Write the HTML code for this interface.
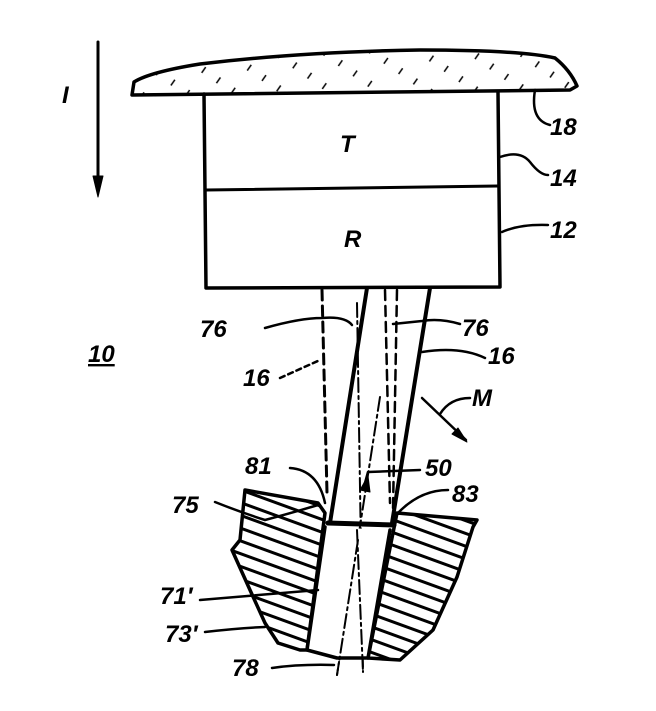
<!DOCTYPE html>
<html><head><style>
html,body{margin:0;padding:0;background:#fff;}
svg{display:block;}
text{font-family:"Liberation Sans",sans-serif;font-style:italic;font-weight:bold;font-size:24px;fill:#000;}
</style></head><body>
<svg width="656" height="711" viewBox="0 0 656 711" xmlns="http://www.w3.org/2000/svg">
<defs>
<pattern id="h" width="12" height="12" patternUnits="userSpaceOnUse" patternTransform="rotate(20)">
<line x1="0" y1="6" x2="12" y2="6" stroke="#000" stroke-width="3"/>
</pattern>
<pattern id="p" width="28" height="18" patternUnits="userSpaceOnUse" patternTransform="rotate(-55)">
<line x1="0" y1="9" x2="7" y2="9" stroke="#000" stroke-width="1.5"/>
</pattern>
</defs>
<g fill="none" stroke="#000" stroke-linecap="round" stroke-linejoin="round">
<!-- I arrow -->
<line x1="98" y1="42" x2="98" y2="185" stroke-width="3"/>
<polygon points="93,176 103,176 98,197" fill="#000"/>
<!-- plate -->
<path d="M132,95 L134,82 Q150,72 200,64 Q300,52 420,50 Q520,50 555,58 Q570,70 577,86 L570,90 L132,95 Z" fill="url(#p)" stroke-width="3.5"/>
<!-- box -->
<path d="M204,94 L206,288 L500,287 L498,92" stroke-width="3.5"/>
<path d="M206,190 L498,186" stroke-width="3"/>
<!-- dashed -->
<path d="M322,290 L327,493" stroke-width="3" stroke-dasharray="10,6"/>
<path d="M385,290 L390,503" stroke-width="2.5" stroke-dasharray="10,6"/>
<path d="M397,290 L393,510" stroke-width="2.5" stroke-dasharray="10,6"/>
<path d="M357,303 L363,672" stroke-width="2" stroke-dasharray="14,4,3,4"/>
<path d="M380,397 L337,675" stroke-width="2" stroke-dasharray="14,4,3,4"/>
<!-- hatched blocks -->
<path d="M245,490 L318,503 L325,513 L307,650 L300,650 L278,643 L265,623 L250,590 L232,550 L240,540 Z" fill="url(#h)" stroke-width="3.5"/>
<path d="M397,513 L477,520 L473,527 L457,577 L433,630 L400,660 L368,658 Z" fill="url(#h)" stroke-width="3.5"/>
<!-- shaft -->
<path d="M367,288 L330,523" stroke-width="4"/>
<path d="M430,288 L392,523" stroke-width="4"/>
<path d="M328,523 L394,525" stroke-width="5"/>
<path d="M325,527 L307,650 L337,658 L368,658 L390,530" stroke-width="3.5" fill="#fff"/>
<path d="M357,530 L363,672" stroke-width="2" stroke-dasharray="14,4,3,4"/>
<path d="M358,540 L337,675" stroke-width="2" stroke-dasharray="14,4,3,4"/>
<!-- leaders -->
<path d="M265,328 Q300,318 322,318 Q345,316 352,325" stroke-width="2.5"/>
<path d="M393,324 L422,321 Q440,318 460,324" stroke-width="2.5"/>
<path d="M422,352 Q460,346 485,358" stroke-width="2.5"/>
<path d="M280,378 L320,360" stroke-width="2.5" stroke-dasharray="5,4"/>
<path d="M422,398 L466,440" stroke-width="2.5"/>
<polygon points="458,428 467,442 452,434" fill="#000"/>
<path d="M440,414 Q450,398 470,398" stroke-width="2.5"/>
<path d="M290,468 Q318,470 325,503" stroke-width="2.5"/>
<path d="M365,483 L368,472 L420,470" stroke-width="2.5"/>
<polygon points="360,490 368,476 370,492" fill="#000"/>
<path d="M398,513 Q420,490 448,490" stroke-width="2.5"/>
<path d="M215,502 Q240,512 265,520 Q295,512 318,505" stroke-width="2.5"/>
<path d="M200,600 L318,590" stroke-width="2.5"/>
<path d="M205,632 Q240,628 265,627" stroke-width="2.5"/>
<path d="M272,668 Q300,664 334,665" stroke-width="2.5"/>
<path d="M535,90 Q530,120 550,125" stroke-width="2.5"/>
<path d="M500,157 Q520,150 530,162 Q540,175 548,175" stroke-width="2.5"/>
<path d="M502,232 Q520,224 548,225" stroke-width="2.5"/>
</g>
<text x="62" y="103" font-size="26">I</text>
<text x="340" y="152">T</text>
<text x="344" y="247">R</text>
<text x="550" y="135">18</text>
<text x="550" y="186">14</text>
<text x="550" y="238">12</text>
<text x="200" y="337">76</text>
<text x="462" y="336">76</text>
<text x="88" y="362" style="text-decoration:underline">10</text>
<text x="243" y="386">16</text>
<text x="488" y="364">16</text>
<text x="472" y="406">M</text>
<text x="245" y="474">81</text>
<text x="425" y="476">50</text>
<text x="452" y="502">83</text>
<text x="172" y="513">75</text>
<text x="160" y="604">71′</text>
<text x="165" y="642">73′</text>
<text x="232" y="676">78</text>
</svg>
</body></html>
